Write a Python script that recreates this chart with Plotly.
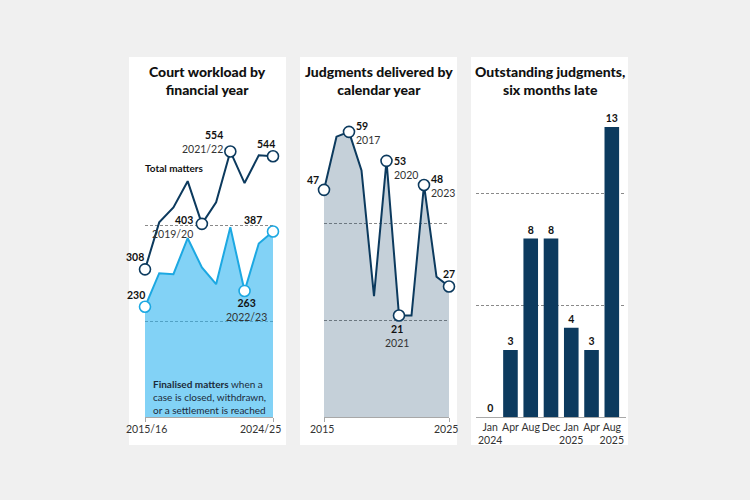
import plotly.graph_objects as go

W, H = 750, 500

# ---------------- data ----------------
fy_labels = ["2015/16", "2016/17", "2017/18", "2018/19", "2019/20",
             "2020/21", "2021/22", "2022/23", "2023/24", "2024/25"]
total_matters = [308, 406, 437, 492, 403, 448, 554, 488, 546, 544]
finalised_matters = [230, 300, 298, 373, 312, 277, 396, 263, 362, 387]
total_marked = [0, 4, 6, 9]
finalised_marked = [0, 7, 9]

cal_years = [2015, 2016, 2017, 2018, 2019, 2020, 2021, 2022, 2023, 2024, 2025]
judgments = [47, 58, 59, 51, 25, 53, 21, 21, 48, 29, 27]
judg_marked = [0, 2, 5, 6, 8, 10]

periods = ["Jan 2024", "Apr 2024", "Aug 2024", "Dec 2024", "Jan 2025", "Apr 2025", "Aug 2025"]
period_ticks = ["Jan<br>2024", "Apr", "Aug", "Dec", "Jan<br>2025", "Apr", "Aug<br>2025"]
outstanding = [0, 3, 8, 8, 4, 3, 13]

titles = ["Court workload by<br>financial year",
          "Judgments delivered by<br>calendar year",
          "Outstanding judgments,<br>six months late"]

# ---------------- style ----------------
NAVY = "#0c3a5e"
SKY = "#1ca8e2"
SKY_FILL = "rgba(40,178,240,0.58)"
NAVY_FILL = "rgba(13,60,97,0.24)"
GRID = "#8a8a8a"
BG = "#f0f0f0"
FONT = "Lato, Roboto, sans-serif"
VAL_COL = "#111111"
YR_COL = "#333333"
FS = 10.5


def px(x):
    return x / W


def py(y):
    return 1 - y / H


fig = go.Figure()

# Panel 1
fig.add_trace(go.Scatter(x=fy_labels, y=finalised_matters, mode="lines", fill="tozeroy",
                         fillcolor=SKY_FILL, line=dict(color=SKY, width=2),
                         xaxis="x", yaxis="y", hoverinfo="skip", cliponaxis=False))
fig.add_trace(go.Scatter(x=fy_labels, y=total_matters, mode="lines",
                         line=dict(color=NAVY, width=2),
                         xaxis="x", yaxis="y", hoverinfo="skip", cliponaxis=False))
fig.add_trace(go.Scatter(x=[fy_labels[i] for i in finalised_marked],
                         y=[finalised_matters[i] for i in finalised_marked], mode="markers",
                         marker=dict(size=11, color="white", line=dict(color=SKY, width=1.6)),
                         xaxis="x", yaxis="y", cliponaxis=False, hoverinfo="skip"))
fig.add_trace(go.Scatter(x=[fy_labels[i] for i in total_marked],
                         y=[total_matters[i] for i in total_marked], mode="markers",
                         marker=dict(size=11, color="white", line=dict(color=NAVY, width=1.6)),
                         xaxis="x", yaxis="y", cliponaxis=False, hoverinfo="skip"))

# Panel 2
fig.add_trace(go.Scatter(x=cal_years, y=judgments, mode="lines", fill="tozeroy",
                         fillcolor=NAVY_FILL, line=dict(color=NAVY, width=2),
                         xaxis="x2", yaxis="y2", hoverinfo="skip", cliponaxis=False))
fig.add_trace(go.Scatter(x=[cal_years[i] for i in judg_marked],
                         y=[judgments[i] for i in judg_marked], mode="markers",
                         marker=dict(size=11, color="white", line=dict(color=NAVY, width=1.6)),
                         xaxis="x2", yaxis="y2", cliponaxis=False, hoverinfo="skip"))

# Panel 3
fig.add_trace(go.Bar(x=periods, y=outstanding, marker=dict(color=NAVY, line=dict(width=0)),
                     width=0.72, text=outstanding, texttemplate="<b>%{y}</b>",
                     textposition="outside", textfont=dict(family=FONT, size=FS, color=VAL_COL),
                     cliponaxis=False, xaxis="x3", yaxis="y3", hoverinfo="skip"))

ydom = [py(417), py(127)]
grid_common = dict(showgrid=True, gridcolor=GRID, gridwidth=1, griddash="3px,2px",
                   showticklabels=False, zeroline=False, showline=False, ticks="")

fig.update_layout(
    width=W, height=H, margin=dict(l=0, r=0, t=0, b=0),
    paper_bgcolor=BG, plot_bgcolor="rgba(0,0,0,0)", showlegend=False,
    font=dict(family=FONT, size=FS, color=YR_COL),
    xaxis=dict(domain=[px(145), px(273)], type="category", range=[0, 9],
               showgrid=False, zeroline=False, showline=True, linecolor="#a8a8a8", linewidth=1,
               ticks="outside", ticklen=4, tickcolor="#a8a8a8",
               tickvals=[fy_labels[0], fy_labels[-1]], showticklabels=False),
    yaxis=dict(domain=ydom, range=[0, 605], tickvals=[200, 400], **grid_common),
    xaxis2=dict(domain=[px(324), px(449)], range=[cal_years[0], cal_years[-1]],
                showgrid=False, zeroline=False, showline=True, linecolor="#a8a8a8", linewidth=1,
                ticks="outside", ticklen=4, tickcolor="#a8a8a8",
                tickvals=[cal_years[0], cal_years[-1]], showticklabels=False),
    yaxis2=dict(domain=ydom, range=[0, 60], tickvals=[20, 40, 60], **grid_common),
    xaxis3=dict(domain=[px(476), px(626)], type="category", range=[-0.7, 6.7],
                showgrid=False, zeroline=False, showline=True, linecolor="#a8a8a8", linewidth=1,
                ticks="", tickvals=periods, ticktext=period_ticks, tickangle=0,
                tickfont=dict(family=FONT, size=10.5, color=YR_COL)),
    yaxis3=dict(domain=ydom, range=[0, 13], tickvals=[5, 10], **grid_common),
)

# panel backgrounds
panels = [(129, 286), (300, 457), (471, 628)]
for (x0, x1) in panels:
    fig.add_shape(type="rect", xref="paper", yref="paper", x0=px(x0), x1=px(x1),
                  y0=py(445), y1=py(57), fillcolor="white", line=dict(width=0), layer="below")

ann = []
# titles
for (x0, x1), t in zip(panels, titles):
    ann.append(dict(xref="paper", yref="paper", x=px((x0 + x1) / 2), y=py(80),
                    text=t, showarrow=False, xanchor="center", yanchor="middle",
                    align="center", font=dict(family=FONT, size=14, color="#111111", weight=900)))


def lab(xref, yref, x, y, value, year, xanchor, xs, ys):
    text = "<b>%s</b>" % value
    if year is not None:
        text += "<br><span style='color:%s'>%s</span>" % (YR_COL, year)
    return dict(xref=xref, yref=yref, x=x, y=y, text=text, showarrow=False,
                xanchor=xanchor, yanchor="middle", align=xanchor if xanchor != "center" else "center",
                xshift=xs, yshift=ys, borderpad=0,
                font=dict(family=FONT, size=FS, color=VAL_COL))


def tick(xref, yref, x, text, xanchor, xs):
    return dict(xref=xref, yref=yref, x=x, y=0, text=text, showarrow=False,
                xanchor=xanchor, yanchor="middle", xshift=xs, yshift=-12, borderpad=0,
                font=dict(family=FONT, size=10.5, color=YR_COL))


# panel 1 labels
i = 0
ann.append(lab("x", "y", fy_labels[i], total_matters[i], total_matters[i], None, "center", -10, 12))
i = 4
ann.append(lab("x", "y", fy_labels[i], total_matters[i], total_matters[i], fy_labels[i], "right", -8, -3))
i = 6
ann.append(lab("x", "y", fy_labels[i], total_matters[i], total_matters[i], fy_labels[i], "right", -6, 9))
i = 9
ann.append(lab("x", "y", fy_labels[i], total_matters[i], total_matters[i], None, "center", -7, 12))
i = 0
ann.append(lab("x", "y", fy_labels[i], finalised_matters[i], finalised_matters[i], None, "center", -9, 12))
i = 7
ann.append(lab("x", "y", fy_labels[i], finalised_matters[i], finalised_matters[i], fy_labels[i], "center", 2, -19))
i = 9
ann.append(lab("x", "y", fy_labels[i], finalised_matters[i], finalised_matters[i], None, "right", -10, 12))

ann.append(dict(xref="paper", yref="paper", x=px(143), y=py(168), text="<b>Total matters</b>",
                showarrow=False, xanchor="left", yanchor="middle",
                font=dict(family=FONT, size=10, color=VAL_COL)))
ann.append(dict(xref="paper", yref="paper", x=px(152), y=py(397),
                text="<b>Finalised matters</b> when a<br>case is closed, withdrawn,<br>or a settlement is reached",
                showarrow=False, xanchor="left", yanchor="middle", align="left", borderpad=0,
                font=dict(family=FONT, size=10, color="#1c2b3a")))

# panel 1 / 2 axis labels
ann.append(tick("x", "y", fy_labels[0], fy_labels[0], "center", 1))
ann.append(tick("x", "y", fy_labels[-1], fy_labels[-1], "right", 9))
ann.append(tick("x2", "y2", cal_years[0], str(cal_years[0]), "center", -2))
ann.append(tick("x2", "y2", cal_years[-1], str(cal_years[-1]), "center", -3))

# panel 2 labels
i = 0
ann.append(lab("x2", "y2", cal_years[i], judgments[i], judgments[i], None, "right", -4, 10))
ys_map = {2: -1, 5: -7, 8: -1}
for i in [2, 5, 8]:
    ann.append(lab("x2", "y2", cal_years[i], judgments[i], judgments[i], cal_years[i], "left", 6, ys_map[i]))
i = 10
ann.append(lab("x2", "y2", cal_years[i], judgments[i], judgments[i], None, "center", 0, 13))
i = 6
ann.append(lab("x2", "y2", cal_years[i], judgments[i], judgments[i], cal_years[i], "center", -2, -20))

fig.update_layout(annotations=ann)

fig.write_html("out.html")
